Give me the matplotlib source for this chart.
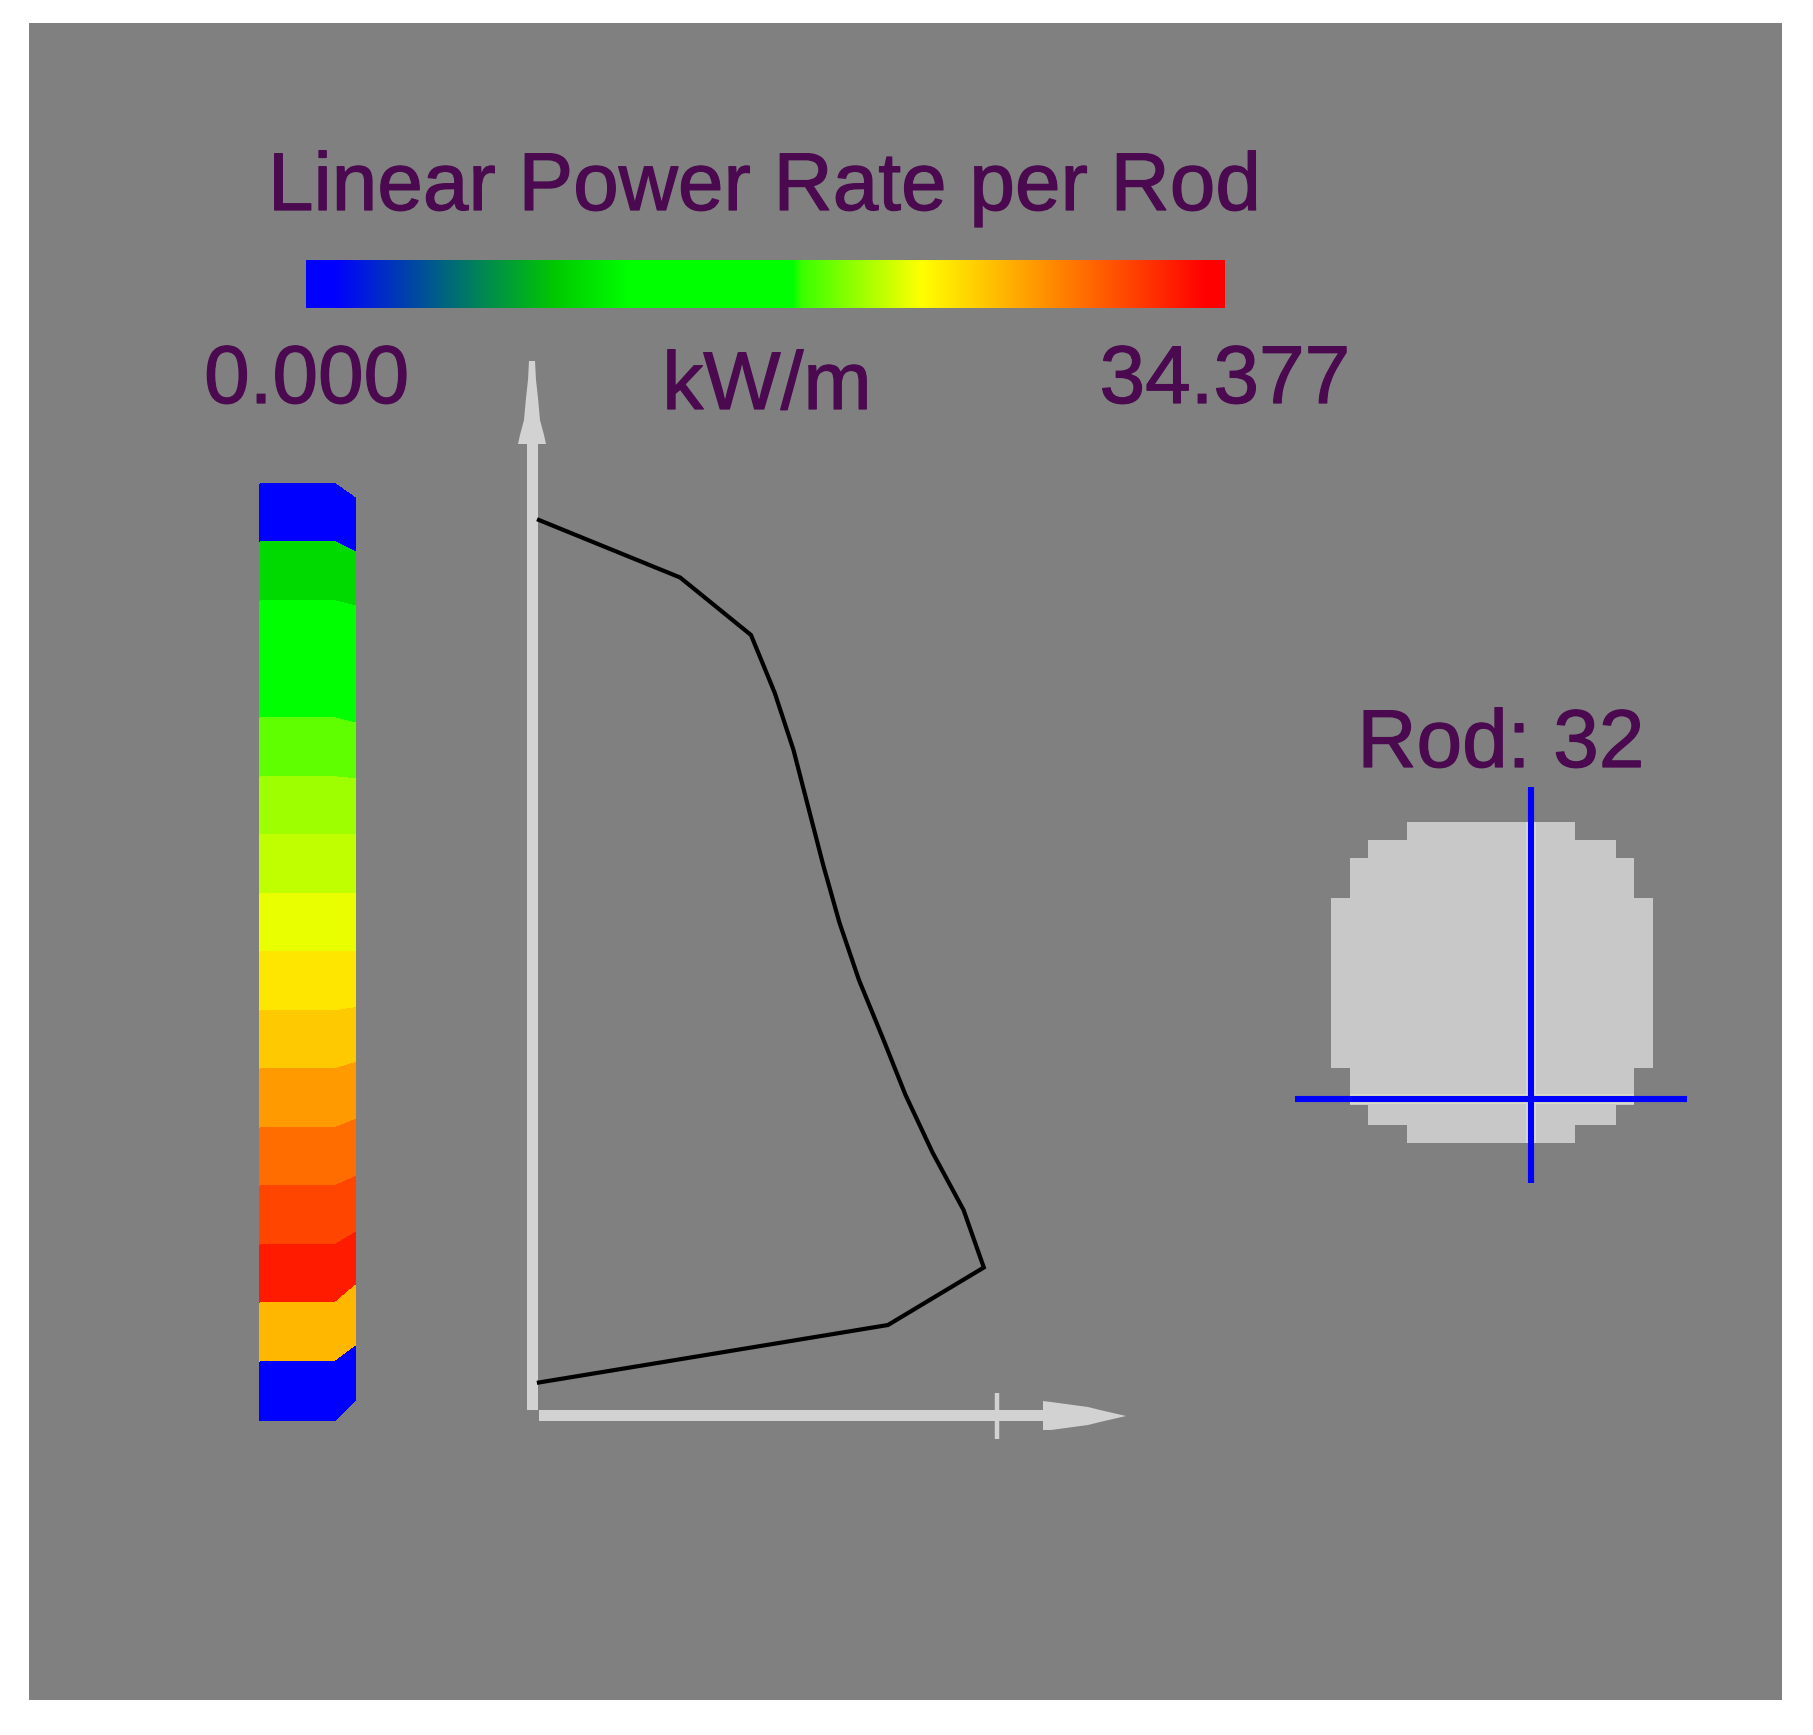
import numpy as np
import matplotlib
matplotlib.use("Agg")
import matplotlib.pyplot as plt
import matplotlib.patheffects as pe
from matplotlib.colors import LinearSegmentedColormap, Normalize

plt.rcParams['font.family'] = ['Liberation Sans', 'DejaVu Sans']

W, H = 1813, 1735
vmax = 34.377

# colour bar stops
cmap_pos = [0, 0.03, 0.27, 0.35, 0.53, 0.54, 0.67, 0.98, 1]
cmap_col = ['#0000ff', '#0000ff', '#00c800', '#00ff00', '#00ff00', '#3cff00', '#ffff00', '#ff0000', '#ff0000']

# rod colour map, one value per axial band, top to bottom (kW/m)
band_values = [0, 10.2, 13.75, 15.47, 19.4, 20.8, 21.6, 22.5, 24.1, 25.3, 27.2, 29.1, 30.8, 32.5, 26.0, 0]
# how much each band boundary drops on the right side of the rod (px)
band_offset = [14, 10, 5, 3, 5, 2, 0, 0, 0, -3, -6, -8, -9, -12, -17, -15, -20]

# axial profile
profile_node = list(range(1, 17))
profile_kw = [0.44, 10.9, 16.15, 17.9, 19.3, 20.4, 21.5, 22.7, 24.15, 25.9, 27.6, 29.6, 31.9, 33.4, 26.3, 0.44]

# rod cross section outline
rod_x = [1407, 1575, 1575, 1616, 1616, 1634, 1634, 1653, 1653, 1634, 1634, 1616, 1616, 1575, 1575,
         1407, 1407, 1368, 1368, 1350, 1350, 1331, 1331, 1350, 1350, 1368, 1368, 1407, 1407]
rod_y = [822, 822, 840, 840, 858, 858, 898, 898, 1068, 1068, 1105, 1105, 1125, 1125, 1143,
         1143, 1125, 1125, 1105, 1105, 1068, 1068, 898, 898, 858, 858, 840, 840, 822]

text_col = '#4b0a50'
axis_col = '#d2d2d2'
fs = 59

fig = plt.figure(figsize=(W / 100, H / 100), dpi=100, facecolor='white')
ax = fig.add_axes([0, 0, 1, 1])
ax.set_xlim(0, W)
ax.set_ylim(H, 0)
ax.axis('off')

ax.fill([29, 1782, 1782, 29], [23, 23, 1700, 1700], color='#808080', lw=0, zorder=0)

cmap = LinearSegmentedColormap.from_list('power', list(zip(cmap_pos, cmap_col)), N=512)
norm = Normalize(0, vmax)

# colour bar
ax.imshow(np.linspace(0, vmax, 512).reshape(1, -1), cmap=cmap, norm=norm, aspect='auto',
          extent=[306, 1225, 308, 260], zorder=2)
ax.set_xlim(0, W)
ax.set_ylim(H, 0)

stroke = [pe.withStroke(linewidth=0.9, foreground=text_col)]
for x, y, s in [(765, 210, "Linear Power Rate per Rod"), (307, 403, "0.000"), (767, 409, "kW/m"),
                (1225, 403, "34.377"), (1501, 767, "Rod: 32")]:
    ax.text(x, y, s, color=text_col, fontsize=fs, ha='center', va='baseline', path_effects=stroke)

# rod with bands
top, band_h = 484, 58.5
edges = top + band_h * np.arange(len(band_values) + 1)
X = np.tile([260, 335, 355], (len(edges), 1))
Y = np.column_stack([edges, edges, edges + np.array(band_offset)])
C = np.column_stack([band_values, band_values])
ax.pcolormesh(X, Y, C, cmap=cmap, norm=norm, shading='flat', edgecolors='face', linewidth=0.3, zorder=2)

# axes of the profile
ax.fill([527, 538, 538, 527], [444, 444, 1410, 1410], color=axis_col, lw=0, zorder=2)
ax.fill([539, 1050, 1050, 539], [1410, 1410, 1421, 1421], color=axis_col, lw=0, zorder=2)
ax.fill([518, 520, 524, 526, 528, 529, 535, 536, 538, 540, 544, 546],
        [444, 435, 420, 398, 380, 361, 361, 380, 398, 420, 435, 444], color=axis_col, lw=0, zorder=2)
ax.fill([1043, 1051, 1088, 1100, 1126, 1100, 1088, 1051, 1043],
        [1401, 1402, 1407, 1410, 1416, 1422, 1425, 1430, 1430], color=axis_col, lw=0, zorder=2)
ax.plot([997, 997], [1393, 1439], color=axis_col, lw=3.2, solid_capstyle='butt', zorder=2)

# profile curve in its own scale
ax_p = fig.add_axes([533 / W, 1 - 1382.5 / H, (997 - 533) / W, (1382.5 - 520) / H])
ax_p.patch.set_alpha(0)
ax_p.axis('off')
ax_p.set_xlim(0, vmax)
ax_p.set_ylim(16, 1)
ax_p.plot(profile_kw, profile_node, color='black', lw=3.0, clip_on=False, solid_joinstyle='miter')

# rod cross section
ax.fill(rod_x, rod_y, color='#c8c8c8', lw=0, zorder=2)
ax.plot([1531, 1531], [822, 1143], color='#dcdcc8', lw=7, solid_capstyle='butt', zorder=2.5)
ax.plot([1350, 1634], [1099, 1099], color='#dcdcc8', lw=7, solid_capstyle='butt', zorder=2.5)
ax.plot([1531, 1531], [787, 1183], color='#0000ff', lw=4.4, solid_capstyle='butt', zorder=3)
ax.plot([1295, 1687], [1099, 1099], color='#0000ff', lw=4.4, solid_capstyle='butt', zorder=3)

fig.savefig("out.png", dpi=100)
